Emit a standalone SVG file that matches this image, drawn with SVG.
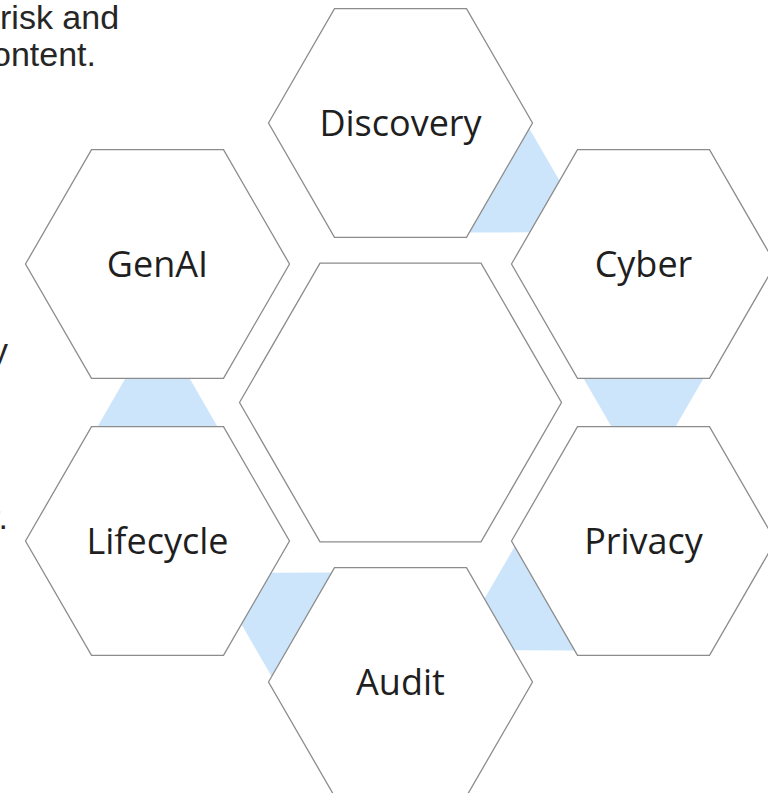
<svg xmlns="http://www.w3.org/2000/svg" xmlns:xlink="http://www.w3.org/1999/xlink" width="768" height="793" viewBox="0 0 768 793">
  <style>
    .hex { fill: #FFFFFF; stroke: #8C8C8C; stroke-width: 1.3; stroke-linejoin: miter; }
    .link { fill: #CDE5FB; stroke: none; }
    .label { font-family: "Open Sans", "DejaVu Sans", sans-serif; font-size: 36px; fill: #1F1F1F; text-anchor: middle; }
    .side { font-family: "Liberation Sans", Arial, sans-serif; font-size: 34px; fill: #262626; }
  </style>
  <defs>
    <!-- flat-topped hexagon, circumradius 132 -->
    <polygon id="hexOuter" points="-132,0 -66,-114.3 66,-114.3 132,0 66,114.3 -66,114.3"/>
    <!-- central hexagon, circumradius 161 -->
    <polygon id="hexCenter" points="-161,0 -80.5,-139.4 80.5,-139.4 161,0 80.5,139.4 -80.5,139.4"/>
    <!-- tapered links: wide end on the source side (negative x) -->
    <polygon id="linkDiag" points="-28.2,-61.2 28.2,-28.6 28.2,28.6 -28.2,61.2"/>
    <polygon id="linkVert" points="-26.2,-61.2 26.2,-30.9 26.2,30.9 -26.2,61.2"/>
  </defs>

  <rect x="0" y="0" width="768" height="793" fill="#FFFFFF"/>

  <!-- text running in from the left margin -->
  <g id="side-text" class="side">
    <text x="0" y="28.5">risk and</text>
    <text x="-8" y="66">ontent.</text>
    <text x="-9" y="362">y</text>
    <text x="-11" y="529">r.</text>
  </g>

  <!-- links between neighbouring hexagons -->
  <g id="connectors">
    <use xlink:href="#linkDiag" class="link" transform="translate(522,193.5) rotate(30)"/>
    <use xlink:href="#linkVert" class="link" transform="translate(643.5,402.5) rotate(90)"/>
    <use xlink:href="#linkDiag" class="link" transform="translate(522,611.5) rotate(150)"/>
    <use xlink:href="#linkDiag" class="link" transform="translate(279,611.5) rotate(210)"/>
    <use xlink:href="#linkVert" class="link" transform="translate(157.5,402.5) rotate(270)"/>
  </g>

  <g id="node-center">
    <use xlink:href="#hexCenter" class="hex" transform="translate(400.5,402.5)"/>
  </g>

  <g id="node-discovery">
    <use xlink:href="#hexOuter" class="hex" transform="translate(400.5,123)"/>
    <text class="label" x="400.5" y="136">Discovery</text>
  </g>

  <g id="node-cyber">
    <use xlink:href="#hexOuter" class="hex" transform="translate(643.5,264)"/>
    <text class="label" x="643.5" y="277">Cyber</text>
  </g>

  <g id="node-privacy">
    <use xlink:href="#hexOuter" class="hex" transform="translate(643.5,541)"/>
    <text class="label" x="643.5" y="554">Privacy</text>
  </g>

  <g id="node-audit">
    <use xlink:href="#hexOuter" class="hex" transform="translate(400.5,682)"/>
    <text class="label" x="400.5" y="695">Audit</text>
  </g>

  <g id="node-lifecycle">
    <use xlink:href="#hexOuter" class="hex" transform="translate(157.5,541)"/>
    <text class="label" x="157.5" y="554">Lifecycle</text>
  </g>

  <g id="node-genai">
    <use xlink:href="#hexOuter" class="hex" transform="translate(157.5,264)"/>
    <text class="label" x="157.5" y="277">GenAI</text>
  </g>
</svg>
